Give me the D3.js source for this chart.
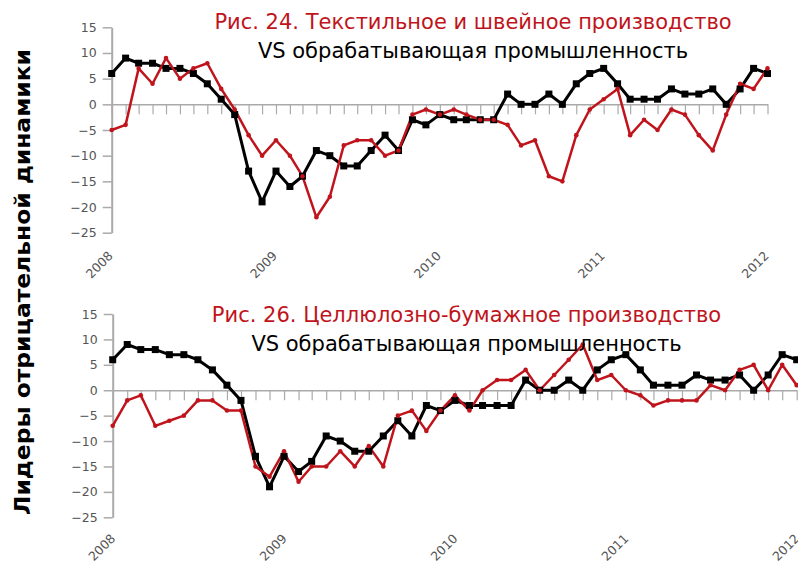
<!DOCTYPE html>
<html>
<head>
<meta charset="utf-8">
<script src="https://cdn.jsdelivr.net/npm/d3@7"></script>
<style>
  body { margin: 0; background: #fff; }
  svg { display: block; }
</style>
</head>
<body>
<div id="chart"></div>
<script>
// ---- data ----
const yearLabels = ["2008", "2009", "2010", "2011", "2012"];
const yTicks = [15, 10, 5, 0, -5, -10, -15, -20, -25];

// обрабатывающая промышленность (same series in both panels)
const manufacturing = [6, 9, 8, 8, 7, 7, 6, 4, 1, -2, -13, -19, -13, -16, -14, -9, -10, -12, -12, -9, -6, -9,
  -3, -4, -2, -3, -3, -3, -3, 2, 0, 0, 2, 0, 4, 6, 7, 4, 1, 1, 1, 3, 2, 2, 3, 0, 3, 7, 6];
// текстильное и швейное производство
const textile = [-5, -4, 7, 4, 9, 5, 7, 8, 3, -1, -6, -10, -7, -10, -14, -22, -18, -8, -7, -7, -10, -9,
  -2, -1, -2, -1, -2, -3, -3, -4, -8, -7, -14, -15, -6, -1, 1, 3, -6, -3, -5, -1, -2, -6, -9, -2, 4, 3, 7];
// целлюлозно-бумажное производство
const pulpPaper = [-7, -2, -1, -7, -6, -5, -2, -2, -4, -4, -15, -17, -12, -18, -15, -15, -12, -15, -11, -15, -5, -4,
  -8, -4, -1, -4, 0, 2, 2, 4, 0, 3, 6, 9, 2, 3, 0, -1, -3, -2, -2, -2, 1, 0, 4, 5, 0, 5, 1];

const title24 = ["Рис. 24. Текстильное и швейное производство", "VS обрабатывающая промышленность"];
const title26 = ["Рис. 26. Целлюлозно-бумажное производство", "VS обрабатывающая промышленность"];
const sideLabel = "Лидеры отрицательной динамики";

// one point per month, Jan 2008 .. Jan 2012
const months = d3.timeMonth.range(new Date(2008, 0, 1), new Date(2012, 1, 1));

const RED = "#c0141c";
const TICK_FONT = "12.5px 'DejaVu Sans', Verdana, sans-serif";
const TITLE_FONT = "21px 'DejaVu Sans', Verdana, sans-serif";

const svg = d3.select("#chart").append("svg")
    .attr("width", 798)
    .attr("height", 563)
    .style("background", "#fff");

// draw one panel: axes, zero line with month ticks, two series, titles
function drawPanel(opt) {
    const x = d3.scaleTime()
        .domain([months[0], months[months.length - 1]])
        .range([opt.left, opt.right]);
    const y = d3.scaleLinear().domain([-25, 15]).range([opt.bottom, opt.top]);
    const g = svg.append("g");

    const yAxis = g.append("g")
        .attr("transform", `translate(${opt.left},0)`)
        .call(d3.axisLeft(y).tickValues(yTicks).tickSize(9).tickSizeOuter(0).tickPadding(6));
    yAxis.select(".domain").attr("stroke", "#aaa").attr("stroke-width", 2);
    yAxis.selectAll(".tick line").attr("stroke", "#aaa").attr("stroke-width", 1.5);
    yAxis.selectAll("text").attr("fill", "#555").style("font", TICK_FONT);

    // zero line with monthly ticks hanging down
    const zero = g.append("g")
        .attr("transform", `translate(0,${y(0)})`)
        .call(d3.axisBottom(x).tickValues(months).tickSize(10).tickSizeOuter(0).tickFormat(""));
    zero.select(".domain").attr("stroke", "#aaa").attr("stroke-width", 1.5);
    zero.selectAll(".tick line").attr("stroke", "#aaa").attr("stroke-width", 1.2);

    // year labels under the plot, rotated
    const yearDates = yearLabels.map(s => new Date(+s, 0, 1));
    const xAxis = g.append("g")
        .attr("transform", `translate(${opt.labelShift},${opt.bottom + opt.labelGap})`)
        .call(d3.axisBottom(x).tickValues(yearDates).tickSize(0).tickFormat((d, i) => yearLabels[i]));
    xAxis.select(".domain").remove();
    xAxis.selectAll("text")
        .attr("x", 0).attr("y", 0).attr("dy", 0)
        .attr("text-anchor", "end")
        .attr("transform", "rotate(-45)")
        .attr("fill", "#555")
        .style("font", TICK_FONT);

    const line = d3.line()
        .x((d, i) => x(months[i]))
        .y(d => y(d));

    // black series with square markers
    g.append("path")
        .datum(manufacturing)
        .attr("fill", "none")
        .attr("stroke", "#000")
        .attr("stroke-width", 3)
        .attr("stroke-linejoin", "round")
        .attr("d", line);

    // red series with small dots
    g.append("path")
        .datum(opt.series)
        .attr("fill", "none")
        .attr("stroke", RED)
        .attr("stroke-width", 2.5)
        .attr("stroke-linejoin", "round")
        .attr("d", line);

    g.selectAll(".sq")
        .data(manufacturing)
        .join("rect")
        .attr("class", "sq")
        .attr("x", (d, i) => x(months[i]) - 3.5)
        .attr("y", d => y(d) - 3.5)
        .attr("width", 7)
        .attr("height", 7)
        .attr("fill", "#000");

    g.selectAll(".dot")
        .data(opt.series)
        .join("circle")
        .attr("class", "dot")
        .attr("cx", (d, i) => x(months[i]))
        .attr("cy", d => y(d))
        .attr("r", 2.3)
        .attr("fill", RED);

    // titles
    g.append("text")
        .attr("x", opt.titleX).attr("y", opt.titleY)
        .attr("text-anchor", "middle")
        .attr("fill", RED)
        .style("font", TITLE_FONT)
        .text(opt.title[0]);
    g.append("text")
        .attr("x", opt.titleX).attr("y", opt.titleY + 29)
        .attr("text-anchor", "middle")
        .attr("fill", "#000")
        .style("font", TITLE_FONT)
        .text(opt.title[1]);
}

drawPanel({
    left: 111.7, right: 767.5, top: 27.3, bottom: 232.7, labelGap: 24, labelShift: 1.5,
    series: textile, title: title24, titleX: 473, titleY: 28.5
});

drawPanel({
    left: 112.7, right: 796.7, top: 314, bottom: 517.3, labelGap: 22, labelShift: 3,
    series: pulpPaper, title: title26, titleX: 466.5, titleY: 321.5
});

// vertical side label
svg.append("text")
    .attr("transform", "translate(30,282) rotate(-90)")
    .attr("text-anchor", "middle")
    .attr("fill", "#000")
    .attr("textLength", 466)
    .attr("lengthAdjust", "spacingAndGlyphs")
    .style("font", "bold 21px 'DejaVu Sans', Verdana, sans-serif")
    .text(sideLabel);
</script>
</body>
</html>
